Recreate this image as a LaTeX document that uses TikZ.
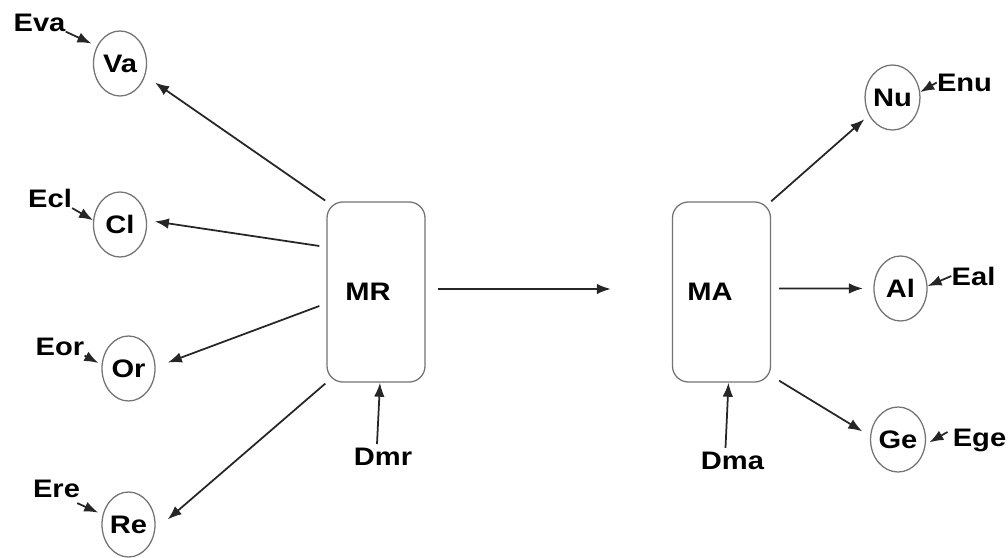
\documentclass[tikz,border=0pt]{standalone}
\usepackage{fontspec}
\usepackage{tikz}
\usetikzlibrary{arrows.meta,shapes.geometric}
\newfontfamily\lblfont{Liberation Sans}[FakeStretch=1.15]

\begin{document}
\begin{tikzpicture}[x=0.025cm,y=-0.025cm,
  every node/.style={inner sep=0pt, font=\lblfont\bfseries\fontsize{18}{20}\selectfont},
  var/.style={draw=black!55, line width=0.9pt, ellipse, minimum width=1.325cm, minimum height=1.625cm},
  modbox/.style={draw=black!55, line width=0.9pt, rounded corners=0.4cm, minimum width=2.45cm, minimum height=4.5cm},
  arr/.style={draw=black!85, line width=1.25pt, -{Latex[length=10pt,width=7.5pt]}}]
\useasboundingbox (0,0) rectangle (1008,558);

% variables
\node[var] (Va) at (120,63.5) {Va};
\node[var] (Cl) at (120,224.5) {Cl};
\node[var] (Or) at (128.5,368.5) {Or};
\node[var] (Re) at (128.5,524.5) {Re};
\node[var] (Nu) at (892.5,97.5) {Nu};
\node[var] (Al) at (900.5,288.5) {Al};
\node[var] (Ge) at (898,439.5) {Ge};

% the two models
\node[modbox, label={[xshift=-0.2cm]center:MR}] (MR) at (376,292) {};
\node[modbox, label={[xshift=-0.29cm]center:MA}] (MA) at (721.5,292) {};

% error and disturbance inputs
\node (Eva) at (39.5,22.5) {Eva};
\node (Ecl) at (50,198.5) {Ecl};
\node (Eor) at (60,346.5) {Eor};
\node (Ere) at (56.5,489) {Ere};
\node (Enu) at (964.5,82.5) {Enu};
\node (Eal) at (973.5,276) {Eal};
\node (Ege) at (979.5,440) {Ege};
\node (Dmr) at (383,457) {Dmr};
\node (Dma) at (732.5,461) {Dma};

% MR outputs
\draw[arr, shorten <=1pt, shorten >=0.3cm] (MR.north west) -- (Va.-26);
\draw[arr, shorten >=0.2cm] ([shift={(-7,-46)}]MR.west) -- (Cl.9);
\draw[arr, shorten >=0.325cm] ([shift={(-7,14)}]MR.west) -- (Or.3);
\draw[arr, shorten <=1pt, shorten >=0.41cm] (MR.south west) -- (Re.-12);
\draw[arr, shorten <=0.3cm, shorten >=1.525cm] ([yshift=0.075cm]MR.east) -- ([yshift=0.075cm]MA.west);

% MA outputs
\draw[arr, shorten >=0.15cm] (MA.north east) -- (Nu.-143);
\draw[arr, shorten <=0.2cm, shorten >=0.26cm] ([yshift=0.09cm]MA.east) -- (Al.west);
\draw[arr, shorten >=0.225cm] ([shift={(8,-2)}]MA.south east) -- (Ge.173);

% inputs
\draw[arr] ([shift={(-6,-4)}]Dmr.north) -- ([xshift=0.1cm]MR.south);
\draw[arr] ([shift={(-7,-4)}]Dma.north) -- ([xshift=0.175cm]MA.south);
\draw[arr, shorten >=0.15cm] (Eva.south east) -- (Va.143);
\draw[arr] (Ecl.south east) -- (Cl.171);
\draw[arr, shorten >=0.09cm] (Eor.south east) -- (Or.172);
\draw[arr, shorten >=0.12cm] ([shift={(-3,5)}]Ere.south east) -- (Re.159);
\draw[arr] (Enu.west) -- (Nu.11);
\draw[arr] (Eal.west) -- (Al.5);
\draw[arr, shorten >=0.1cm] ([shift={(-5,-8)}]Ege.west) -- (Ge.-10);
\end{tikzpicture}
\end{document}
